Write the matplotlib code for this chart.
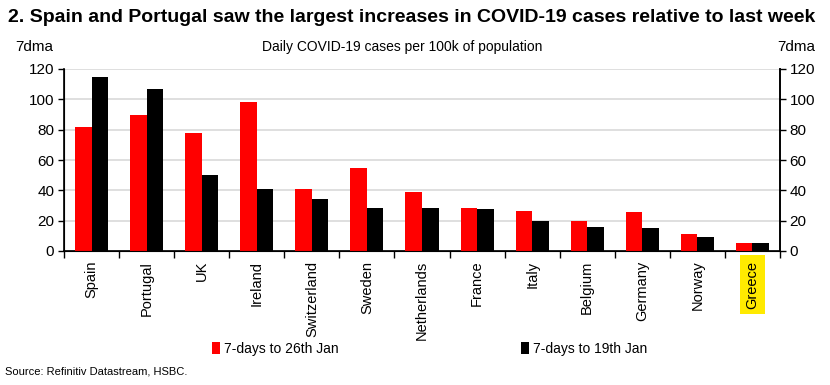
import numpy as np
from matplotlib import pyplot as plt

countries = ['Spain', 'Portugal', 'UK', 'Ireland', 'Switzerland', 'Sweden', 'Netherlands',
             'France', 'Italy', 'Belgium', 'Germany', 'Norway', 'Greece']
jan26 = [82, 90, 78, 98.5, 41, 54.5, 39, 28.5, 26.5, 20, 25.5, 11, 5.5]
jan19 = [115, 106.5, 50, 41, 34, 28.5, 28.5, 27.5, 19.5, 16, 15, 9, 5.5]
series_names = ['7-days to 26th Jan', '7-days to 19th Jan']

plt.rcParams['font.family'] = ['Liberation Sans', 'DejaVu Sans']

fig = plt.figure(figsize=(8.3, 3.85), dpi=100)
ax = fig.add_axes([64 / 830, 1 - 251 / 385, (780 - 64) / 830, (251 - 69) / 385])

x = np.arange(len(countries))
w = 0.3
b1 = ax.bar(x - w / 2, jan26, w, color='#ff0000', label=series_names[0], zorder=3)
b2 = ax.bar(x + w / 2, jan19, w, color='#000000', label=series_names[1], zorder=3)

ax.set_xlim(-0.5, len(countries) - 0.5)
ax.set_ylim(0, 120)
ax.set_yticks(range(0, 121, 20))
ax.grid(axis='y', color='#d9d9d9', linewidth=1.2, zorder=0)
ax.set_axisbelow(True)

# category ticks sit between the groups
ax.set_xticks(np.arange(-0.5, len(countries) + 0.5, 1))
ax.set_xticklabels([])
ax.set_xticks(x, minor=True)
ax.set_xticklabels(countries, minor=True, rotation=90, fontsize=10.5, va='top')
ax.tick_params(axis='x', which='minor', length=0, pad=7)
ax.tick_params(axis='x', which='major', length=5, width=1, direction='out')
ax.tick_params(axis='y', labelsize=11, length=4, width=1, direction='out', pad=3)

ax.spines['top'].set_visible(False)
for s in ['left', 'right', 'bottom']:
    ax.spines[s].set_linewidth(1.2)

ax2 = ax.twinx()
ax2.set_ylim(0, 120)
ax2.set_yticks(range(0, 121, 20))
ax2.tick_params(axis='y', labelsize=11, length=4, width=1, direction='out', pad=3)
ax2.spines['top'].set_visible(False)
ax2.spines['right'].set_linewidth(1.2)

# highlight Greece
for lab in ax.get_xticklabels(minor=True):
    if lab.get_text() == 'Greece':
        lab.set_bbox(dict(facecolor='#ffea00', edgecolor='none', pad=4))

fig.text(8 / 830, 1 - 18 / 385, '2. Spain and Portugal saw the largest increases in COVID-19 cases relative to last week',
         fontsize=14, fontweight='bold', va='center', ha='left')
fig.text(402 / 830, 1 - 47 / 385, 'Daily COVID-19 cases per 100k of population', fontsize=10,
         va='center', ha='center')
fig.text(34 / 830, 1 - 47 / 385, '7dma', fontsize=11, va='center', ha='center')
fig.text(796 / 830, 1 - 47 / 385, '7dma', fontsize=11, va='center', ha='center')

fig.legend(handles=[b1], labels=[series_names[0]], loc='center left', bbox_to_anchor=(206 / 830, 1 - 349 / 385),
           frameon=False, fontsize=10, handlelength=0.6, handleheight=0.9, handletextpad=0.3, borderaxespad=0)
fig.legend(handles=[b2], labels=[series_names[1]], loc='center left', bbox_to_anchor=(515 / 830, 1 - 349 / 385),
           frameon=False, fontsize=10, handlelength=0.6, handleheight=0.9, handletextpad=0.3, borderaxespad=0)

fig.text(5 / 830, 1 - 372 / 385, 'Source: Refinitiv Datastream, HSBC.', fontsize=8, va='center', ha='left')

fig.savefig('out.png', dpi=100)
